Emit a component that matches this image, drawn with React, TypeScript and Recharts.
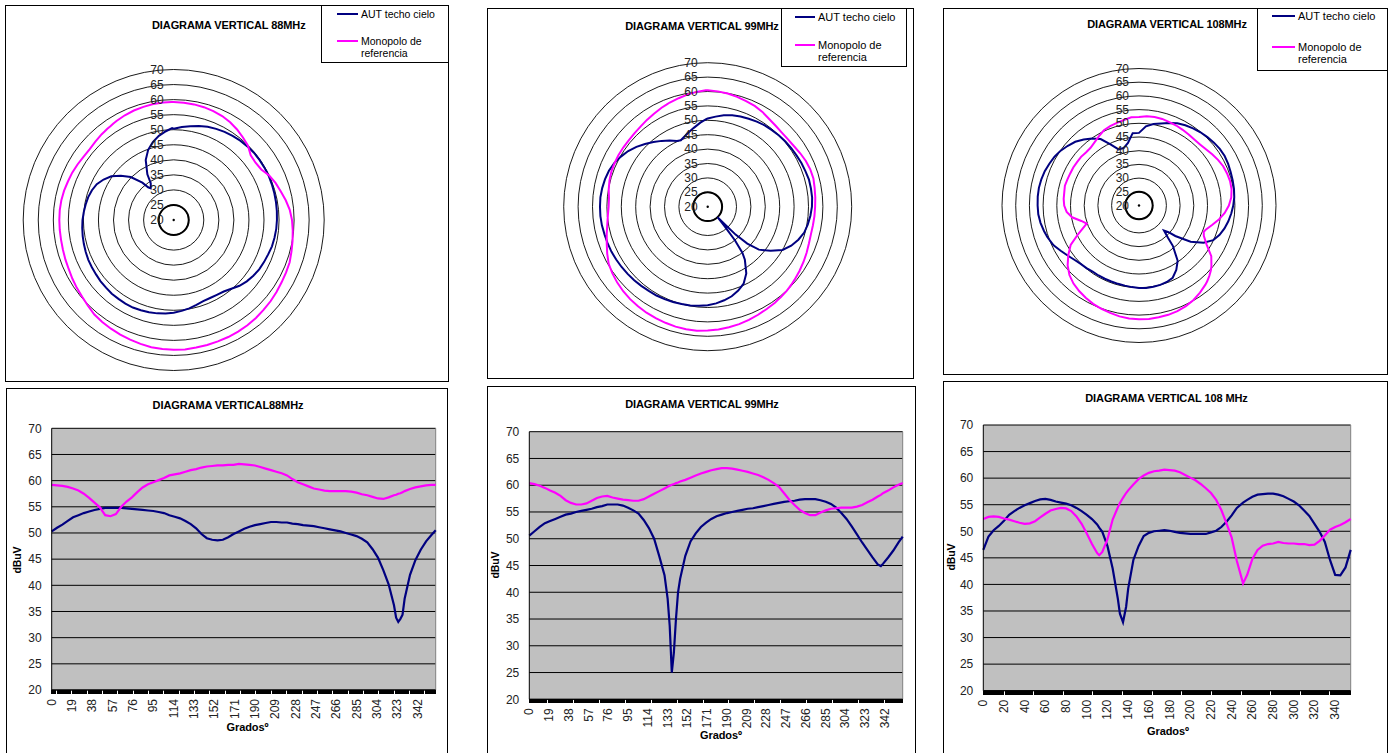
import React from "react";
import {
  RadarChart,
  Radar,
  PolarGrid,
  PolarAngleAxis,
  PolarRadiusAxis,
  LineChart,
  Line,
  XAxis,
  YAxis,
  CartesianGrid,
  ReferenceLine,
} from "recharts";

const AZUL = "#000080";
const MAGENTA = "#FF00FF";
const FUENTE = "Arial, 'Liberation Sans', Helvetica, sans-serif";

// niveles en dBuV (anillos del polar y eje Y del lineal)
const NIVELES = [20, 25, 30, 35, 40, 45, 50, 55, 60, 65, 70];
const ETIQUETAS_19 = [0, 19, 38, 57, 76, 95, 114, 133, 152, 171, 190, 209, 228, 247, 266, 285, 304, 323, 342];
const ETIQUETAS_20 = [0, 20, 40, 60, 80, 100, 120, 140, 160, 180, 200, 220, 240, 260, 280, 300, 320, 340];

// ---- 88 MHz ----
const GRADOS_88 = [
  0, 5, 10, 15, 20, 25, 30, 35, 40, 45,
  50, 55, 60, 65, 70, 75, 80, 85, 90, 95,
  100, 105, 110, 115, 120, 125, 130, 135, 140, 145,
  150, 155, 160, 165, 170, 175, 180, 185, 190, 195,
  200, 205, 210, 215, 220, 225, 230, 235, 240, 245,
  250, 255, 260, 265, 270, 275, 280, 285, 290, 295,
  300, 305, 310, 315, 320, 322, 324, 326, 328, 330,
  335, 340, 345, 350, 355, 359,
];
const AUT_88 = [
  50.3, 51.0, 51.6, 52.3, 53.0, 53.4, 53.8, 54.1, 54.4, 54.6,
  54.8, 54.8, 54.8, 54.8, 54.7, 54.6, 54.5, 54.4, 54.3, 54.2,
  54.0, 53.8, 53.4, 53.1, 52.8, 52.3, 51.7, 50.9, 49.8, 49.0,
  48.7, 48.6, 48.7, 49.2, 49.8, 50.3, 50.8, 51.2, 51.5, 51.7,
  51.9, 52.1, 52.1, 52.0, 52.0, 51.8, 51.7, 51.5, 51.4, 51.3,
  51.1, 50.9, 50.7, 50.5, 50.3, 50.0, 49.7, 49.4, 48.9, 48.2,
  46.9, 45.3, 42.9, 40.2, 36.2, 33.8, 33.0, 33.6, 34.4, 37.5,
  42.0, 44.8, 46.8, 48.4, 49.6, 50.5,
];
const MONO_88 = [
  59.2, 59.1, 59.0, 58.8, 58.5, 58.1, 57.5, 56.7, 55.8, 54.9,
  53.4, 53.2, 53.6, 55.0, 56.0, 56.8, 57.8, 58.7, 59.3, 59.7,
  60.1, 60.5, 61.0, 61.2, 61.4, 61.7, 62.0, 62.2, 62.5, 62.7,
  62.8, 62.9, 62.9, 63.0, 63.0, 63.2, 63.1, 63.0, 62.9, 62.6,
  62.3, 62.0, 61.7, 61.4, 61.0, 60.3, 59.7, 59.3, 58.9, 58.5,
  58.3, 58.1, 58.0, 58.0, 58.0, 58.0, 57.9, 57.7, 57.4, 57.2,
  56.9, 56.6, 56.5, 56.8, 57.2, 57.3, 57.5, 57.6, 57.8, 58.0,
  58.4, 58.7, 58.9, 59.1, 59.2, 59.2,
];

// ---- 99 MHz ----
const GRADOS_99 = [
  0, 5, 10, 15, 20, 25, 30, 35, 40, 45,
  50, 55, 60, 65, 70, 75, 80, 85, 90, 95,
  100, 105, 110, 115, 120, 125, 130, 133, 135, 137,
  139, 141, 143, 145, 150, 155, 160, 165, 170, 175,
  180, 185, 190, 195, 200, 205, 210, 215, 220, 225,
  230, 235, 240, 245, 250, 255, 260, 265, 270, 275,
  280, 285, 290, 295, 300, 305, 310, 315, 320, 325,
  330, 335, 338, 340, 345, 350, 355, 359,
];
const AUT_99 = [
  50.6, 51.4, 52.2, 52.9, 53.3, 53.7, 54.1, 54.5, 54.7, 55.0,
  55.2, 55.4, 55.6, 55.9, 56.1, 56.4, 56.4, 56.4, 56.2, 55.8,
  55.3, 54.7, 53.5, 52.0, 50.0, 46.7, 43.2, 38.8, 33.7, 25.0,
  28.7, 35.0, 40.0, 42.5, 46.8, 49.5, 51.0, 52.2, 53.0, 53.7,
  54.2, 54.5, 54.8, 55.0, 55.2, 55.4, 55.6, 55.7, 55.9, 56.1,
  56.3, 56.5, 56.7, 56.9, 57.0, 57.1, 57.3, 57.4, 57.4, 57.4,
  57.2, 56.9, 56.5, 55.8, 54.8, 53.7, 52.3, 50.8, 49.3, 47.9,
  46.5, 45.2, 44.9, 45.3, 46.5, 47.8, 49.3, 50.4,
];
const MONO_99 = [
  60.4, 60.2, 59.9, 59.5, 59.0, 58.6, 58.0, 57.2, 56.7, 56.4,
  56.4, 56.6, 57.1, 57.6, 57.9, 58.0, 57.7, 57.5, 57.3, 57.2,
  57.1, 57.1, 57.4, 57.9, 58.4, 58.9, 59.4, 59.7, 59.9, 60.1,
  60.2, 60.4, 60.5, 60.7, 61.0, 61.4, 61.8, 62.2, 62.5, 62.8,
  63.0, 63.2, 63.2, 63.1, 62.9, 62.7, 62.5, 62.2, 61.9, 61.5,
  61.0, 60.4, 59.7, 58.5, 57.3, 56.3, 55.4, 54.8, 54.4, 54.4,
  54.9, 55.3, 55.6, 55.7, 55.8, 55.8, 55.8, 56.0, 56.3, 56.8,
  57.3, 57.9, 58.2, 58.5, 59.0, 59.6, 60.1, 60.4,
];

// ---- 108 MHz ----
const GRADOS_108 = [
  0, 5, 10, 15, 20, 25, 30, 35, 40, 45,
  50, 55, 60, 65, 70, 75, 80, 85, 90, 95,
  100, 105, 110, 112, 115, 120, 125, 130, 132, 135,
  138, 140, 145, 150, 155, 160, 165, 170, 175, 180,
  185, 190, 195, 200, 205, 210, 215, 220, 225, 230,
  235, 240, 245, 251, 255, 260, 265, 270, 275, 280,
  285, 290, 295, 300, 305, 310, 315, 320, 325, 330,
  335, 340, 345, 350, 355,
];
const AUT_108 = [
  46.5, 49.0, 50.2, 51.0, 52.0, 53.1, 53.8, 54.4, 54.9, 55.3,
  55.7, 56.0, 56.1, 55.9, 55.6, 55.4, 55.2, 54.9, 54.4, 53.8,
  53.1, 52.3, 51.3, 50.7, 49.9, 47.2, 43.0, 37.3, 34.5, 32.9,
  35.8, 39.2, 44.6, 47.2, 49.1, 49.7, 50.0, 50.1, 50.2, 50.1,
  49.9, 49.7, 49.6, 49.5, 49.5, 49.5, 49.5, 49.8, 50.1, 50.8,
  51.8, 53.0, 54.4, 55.4, 55.9, 56.5, 56.9, 57.0, 57.1, 57.1,
  56.9, 56.6, 56.1, 55.6, 54.9, 53.9, 52.9, 51.4, 49.9, 48.0,
  44.6, 41.8, 41.7, 43.2, 46.5,
];
const MONO_108 = [
  52.3, 52.7, 52.8, 52.7, 52.4, 52.2, 51.9, 51.6, 51.4, 51.5,
  51.9, 52.6, 53.3, 53.9, 54.2, 54.4, 54.3, 53.8, 52.8, 51.4,
  49.6, 47.6, 45.9, 45.5, 46.1, 48.5, 52.2, 54.5, 55.3, 56.3,
  57.2, 57.7, 58.8, 59.8, 60.5, 61.0, 61.3, 61.4, 61.6, 61.5,
  61.4, 61.1, 60.6, 60.1, 59.6, 58.9, 58.1, 57.2, 55.9, 54.0,
  51.5, 48.8, 44.4, 40.2, 41.8, 44.8, 46.5, 47.3, 47.6, 47.7,
  48.0, 47.8, 47.7, 47.7, 47.6, 47.6, 47.4, 47.5, 48.2, 49.2,
  50.3, 50.8, 51.2, 51.7, 52.3,
];

type Fila = { grados: number; aut: number; mono: number };
const filas = (g: number[], a: number[], m: number[]): Fila[] =>
  g.map((grados, i) => ({ grados, aut: a[i], mono: m[i] }));

const DATOS_88 = filas(GRADOS_88, AUT_88, MONO_88);
const DATOS_99 = filas(GRADOS_99, AUT_99, MONO_99);
const DATOS_108 = filas(GRADOS_108, AUT_108, MONO_108);

type Caja = { x: number; y: number; w: number; h: number };

const Marco = ({ c }: { c: Caja }) => (
  <div
    style={{
      position: "absolute",
      left: c.x,
      top: c.y,
      width: c.w,
      height: c.h,
      border: "1px solid #000",
      boxSizing: "border-box",
    }}
  />
);

const Texto = ({ x, y, children, size = 11, bold = false, girar = false, izq = false }: any) => (
  <div
    style={{
      position: "absolute",
      left: x,
      top: y,
      transform: `translate(${izq ? "0" : "-50%"}, -50%)${girar ? " rotate(-90deg)" : ""}`,
      fontSize: size,
      fontWeight: bold ? "bold" : "normal",
      whiteSpace: "nowrap",
      lineHeight: 1,
      letterSpacing: bold ? -0.1 : 0,
    }}
  >
    {children}
  </div>
);

const Leyenda = ({ c, l1, l2, tx, yA, yM, yR, size }: any) => (
  <>
    <div
      style={{
        position: "absolute",
        left: c.x,
        top: c.y,
        width: c.w,
        height: c.h,
        border: "1px solid #000",
        boxSizing: "border-box",
        background: "#fff",
      }}
    />
    <div style={{ position: "absolute", left: l1, top: yA - 1, width: l2 - l1, height: 2, background: AZUL }} />
    <div style={{ position: "absolute", left: l1, top: yM - 1, width: l2 - l1, height: 2, background: MAGENTA }} />
    <Texto x={tx} y={yA} size={size} izq>AUT techo cielo</Texto>
    <Texto x={tx} y={yM} size={size} izq>Monopolo de</Texto>
    <Texto x={tx} y={yR} size={size} izq>referencia</Texto>
  </>
);

const MarcaRadio = (props: any) => {
  const { x, y, payload } = props;
  return (
    <g>
      {payload.value === 20 && <circle cx={x} cy={y} r={1.2} fill="#000" />}
      <text x={x - 10} y={y} textAnchor="end" dominantBaseline="central" fontSize={12} fill="#222">
        {payload.value}
      </text>
    </g>
  );
};

const MarcaX = (props: any) => {
  const { x, y, payload, etiquetas } = props;
  const v = payload.value;
  return (
    <g>
      <line x1={x} y1={y} x2={x} y2={y + 4} stroke="#000" strokeWidth={1} shapeRendering="crispEdges" />
      {etiquetas.includes(v) && (
        <text
          x={x}
          y={y + 9}
          transform={`rotate(-90 ${x} ${y + 9})`}
          textAnchor="end"
          dominantBaseline="central"
          fontSize={12}
          fill="#222"
        >
          {v}
        </text>
      )}
    </g>
  );
};

function Polar({ c, cx, cy, r, datos }: { c: Caja; cx: number; cy: number; r: number; datos: Fila[] }) {
  return (
    <div style={{ position: "absolute", left: c.x, top: c.y }}>
      <RadarChart
        width={c.w}
        height={c.h}
        data={datos}
        cx={cx - c.x}
        cy={cy - c.y}
        innerRadius={0}
        outerRadius={r}
        startAngle={90}
        endAngle={-270}
        margin={{ top: 0, right: 0, bottom: 0, left: 0 }}
      >
        <PolarGrid gridType="circle" radialLines={false} stroke="#000" strokeWidth={0.9} />
        {/* anillo de 25 dBuV mas grueso */}
        <PolarGrid gridType="circle" radialLines={false} polarRadius={[r / 10]} stroke="#000" strokeWidth={2} />
        <PolarAngleAxis dataKey="grados" type="number" domain={[0, 360]} tick={false} tickLine={false} axisLine={false} />
        <PolarRadiusAxis
          angle={90}
          type="number"
          domain={[20, 70]}
          tickCount={11}
          axisLine={false}
          tickLine={false}
          tick={MarcaRadio}
        />
        <Radar dataKey="aut" stroke={AZUL} strokeWidth={2} fill="none" fillOpacity={0} dot={false} isAnimationActive={false} />
        <Radar dataKey="mono" stroke={MAGENTA} strokeWidth={2} fill="none" fillOpacity={0} dot={false} isAnimationActive={false} />
      </RadarChart>
    </div>
  );
}

type Area = { l: number; r: number; t: number; b: number };

function Lineal({ c, p, datos, xMax, etiquetas }: { c: Caja; p: Area; datos: Fila[]; xMax: number; etiquetas: number[] }) {
  const YW = 40;
  const XH = 40;
  const margin = {
    top: p.t - c.y,
    left: p.l - c.x - YW,
    right: c.x + c.w - p.r,
    bottom: c.y + c.h - p.b - XH,
  };
  const marcas = Array.from({ length: xMax + 1 }, (_, i) => i);
  return (
    <div style={{ position: "absolute", left: c.x, top: c.y }}>
      <LineChart width={c.w} height={c.h} data={datos} margin={margin}>
        <CartesianGrid vertical={false} stroke="#000" strokeWidth={1} fill="#C0C0C0" fillOpacity={1} />
        <XAxis
          dataKey="grados"
          type="number"
          domain={[0, xMax]}
          ticks={marcas}
          interval={0}
          height={XH}
          tickSize={0}
          tickMargin={0}
          tickLine={false}
          axisLine={{ stroke: "#000" }}
          tick={(t: any) => <MarcaX {...t} etiquetas={etiquetas} />}
        />
        <YAxis
          type="number"
          domain={[20, 70]}
          ticks={NIVELES}
          interval={0}
          width={YW}
          tickSize={0}
          tickMargin={10}
          tickLine={false}
          axisLine={{ stroke: "#000" }}
          tick={{ fontSize: 12, fill: "#222" }}
        />
        <ReferenceLine x={xMax} stroke="#808080" />
        <Line type="linear" dataKey="aut" stroke={AZUL} strokeWidth={2.2} dot={false} isAnimationActive={false} />
        <Line type="linear" dataKey="mono" stroke={MAGENTA} strokeWidth={2.2} dot={false} isAnimationActive={false} />
      </LineChart>
    </div>
  );
}

const P1: Caja = { x: 5, y: 5, w: 444, h: 377 };
const P2: Caja = { x: 487, y: 8, w: 427, h: 371 };
const P3: Caja = { x: 943, y: 8, w: 445, h: 367 };
const P4: Caja = { x: 6, y: 388, w: 442, h: 400 };
const P5: Caja = { x: 487, y: 386, w: 429, h: 400 };
const P6: Caja = { x: 943, y: 381, w: 445, h: 400 };

export default function App() {
  return (
    <div
      style={{
        position: "absolute",
        left: 0,
        top: 0,
        width: 1393,
        height: 753,
        overflow: "hidden",
        background: "#fff",
        fontFamily: FUENTE,
        color: "#000",
      }}
    >
      {/* diagramas polares */}
      <Marco c={P1} />
      <Polar c={P1} cx={173.7} cy={220} r={150.5} datos={DATOS_88} />
      <Texto x={228.8} y={24.5} bold>DIAGRAMA VERTICAL 88MHz</Texto>
      <Leyenda c={{ x: 321, y: 5, w: 128, h: 58 }} l1={337} l2={358} tx={361} yA={14.3} yM={40.7} yR={52.7} size={10.5} />

      <Marco c={P2} />
      <Polar c={P2} cx={707.7} cy={206.7} r={144} datos={DATOS_99} />
      <Texto x={702} y={25.5} bold>DIAGRAMA VERTICAL 99MHz</Texto>
      <Leyenda c={{ x: 781, y: 8, w: 126, h: 59 }} l1={795} l2={815} tx={818} yA={16.5} yM={45} yR={56.7} size={11} />

      <Marco c={P3} />
      <Polar c={P3} cx={1139} cy={205.5} r={137} datos={DATOS_108} />
      <Texto x={1167} y={24} bold>DIAGRAMA VERTICAL 108MHz</Texto>
      <Leyenda c={{ x: 1257, y: 8, w: 131, h: 63 }} l1={1272} l2={1295} tx={1298} yA={16} yM={46.7} yR={59.3} size={11} />

      {/* diagramas lineales */}
      <Marco c={P4} />
      <Lineal c={P4} p={{ l: 51.7, r: 435.7, t: 428.3, b: 690 }} datos={DATOS_88} xMax={359} etiquetas={ETIQUETAS_19} />
      <Texto x={228} y={405} bold>DIAGRAMA VERTICAL88MHz</Texto>
      <Texto x={17.3} y={560} size={10.5} bold girar>dBuV</Texto>
      <Texto x={247.5} y={727} bold>Gradosº</Texto>

      <Marco c={P5} />
      <Lineal c={P5} p={{ l: 529.3, r: 902.7, t: 431.7, b: 699.3 }} datos={DATOS_99} xMax={359} etiquetas={ETIQUETAS_19} />
      <Texto x={702} y={403.5} bold>DIAGRAMA VERTICAL 99MHz</Texto>
      <Texto x={495} y={565} size={10.5} bold girar>dBuV</Texto>
      <Texto x={721} y={735} bold>Gradosº</Texto>

      <Marco c={P6} />
      <Lineal c={P6} p={{ l: 983.3, r: 1350.7, t: 425, b: 690.7 }} datos={DATOS_108} xMax={355} etiquetas={ETIQUETAS_20} />
      <Texto x={1166.5} y={397.5} bold>DIAGRAMA VERTICAL 108 MHz</Texto>
      <Texto x={951} y={556.7} size={10.5} bold girar>dBuV</Texto>
      <Texto x={1168} y={731} bold>Gradosº</Texto>
    </div>
  );
}
